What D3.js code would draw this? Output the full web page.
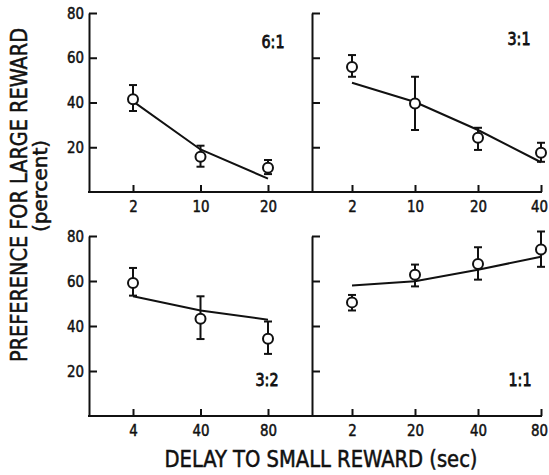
<!DOCTYPE html>
<html>
<head>
<meta charset="utf-8">
<script src="https://cdn.jsdelivr.net/npm/d3@7"></script>
<style>
  body { margin: 0; background: #fff; }
  svg { display: block; }
  text { font-family: "DejaVu Sans Condensed", "Liberation Sans Narrow", sans-serif; fill: #111; stroke: #111; stroke-width: 0.5; }
  .tick line, .baseline, .domain { stroke: #111; stroke-width: 2; }
  .fit { fill: none; stroke: #111; stroke-width: 2; }
  .err { stroke: #111; stroke-width: 2; }
  .pt { fill: #fff; stroke: #111; stroke-width: 2; }
</style>
</head>
<body>
<div id="chart"></div>
<script>
// delays (sec) per panel
const delays61 = ['2', '10', '20'];
const delays31 = ['2', '10', '20', '40'];
const delays32 = ['4', '40', '80'];
const delays11 = ['2', '20', '40', '80'];

// preference for large reward (percent)
const mean61 = [41.5, 15.8, 10.8];
const low61 = [36.2, 11.3, 8];
const high61 = [47.8, 20.7, 14.3];
const fit61 = [40.5, 19, 6];

const mean31 = [55.9, 39.6, 24.2, 17.5];
const low31 = [51.5, 27.7, 18.8, 13.5];
const high31 = [61.2, 51.5, 28.7, 22];
const fit31 = [48.8, 40.2, 27.7, 13.3];

const mean32 = [59.1, 43.2, 34.3];
const low32 = [53.5, 34.2, 27.6];
const high32 = [65.8, 53.2, 42];
const fit32 = [53.2, 46.9, 42.8];

const mean11 = [50.5, 62.8, 67.6, 74];
const low11 = [46.9, 57.6, 60.6, 66.3];
const high11 = [53.8, 67.3, 75, 82];
const fit11 = [58, 59.9, 65, 70.8];

const yTicks = [20, 40, 60, 80];
const ratioLabels = ['6:1', '3:1', '3:2', '1:1'];

const W = 549, H = 475;
const svg = d3.select('#chart').append('svg').attr('width', W).attr('height', H);

const leftAxisX = 89, midAxisX = 312, endX = 542;
const rows = [
  { y: d3.scaleLinear().domain([0, 80]).range([192, 13]) },
  { y: d3.scaleLinear().domain([0, 80]).range([416, 236]) }
];

const panels = [
  { row: 0, side: 'left', delays: delays61, mean: mean61, low: low61, high: high61, fit: fit61, label: ratioLabels[0], lx: 273, ly: 48 },
  { row: 0, side: 'right', delays: delays31, mean: mean31, low: low31, high: high31, fit: fit31, label: ratioLabels[1], lx: 519, ly: 45 },
  { row: 1, side: 'left', delays: delays32, mean: mean32, low: low32, high: high32, fit: fit32, label: ratioLabels[2], lx: 267, ly: 386 },
  { row: 1, side: 'right', delays: delays11, mean: mean11, low: low11, high: high11, fit: fit11, label: ratioLabels[3], lx: 520, ly: 386 }
];

// narrow glyphs, like the condensed face of the original
const squeeze = sel => sel.attr('textLength', function () { return this.textContent.length * 8.5; })
  .attr('lengthAdjust', 'spacingAndGlyphs');

panels.forEach(p => {
  const y = rows[p.row].y;
  const x0 = p.side === 'left' ? leftAxisX : midAxisX;
  const x1 = p.side === 'left' ? midAxisX : endX;
  const x = d3.scalePoint().domain(p.delays)
    .range(p.side === 'left' ? [133, 268] : [352, 541]);

  const g = svg.append('g');

  // y axis, ticks pointing inward
  const yAxis = d3.axisLeft(y).tickValues(yTicks).tickSizeInner(-8).tickSizeOuter(0).tickPadding(4)
    .tickFormat(p.side === 'left' ? d3.format('d') : '');
  const ya = g.append('g').attr('transform', `translate(${x0},0)`).call(yAxis);
  ya.selectAll('text').style('font-size', '16px').attr('dx', '-1').call(squeeze);

  // baseline
  g.append('line').attr('class', 'baseline')
    .attr('x1', x0 - 1).attr('x2', x1).attr('y1', y(0)).attr('y2', y(0));

  // x axis, ticks pointing up
  const xAxis = d3.axisBottom(x).tickSizeInner(-7).tickSizeOuter(0).tickPadding(9);
  const xa = g.append('g').attr('transform', `translate(0,${y(0)})`).call(xAxis);
  xa.select('.domain').remove();
  xa.selectAll('text').style('font-size', '16px').call(squeeze);
  // last label sits at the page edge, nudge it in
  if (p.side === 'right') xa.selectAll('text').filter((d, i, n) => i === n.length - 1).attr('dx', '-2');

  // fitted line
  g.append('path').attr('class', 'fit')
    .attr('d', d3.line().x((d, i) => x(p.delays[i])).y(d => y(d))(p.fit));

  // error bars
  const eb = g.selectAll('.eb').data(p.delays).enter().append('g');
  eb.append('line').attr('class', 'err')
    .attr('x1', d => x(d)).attr('x2', d => x(d))
    .attr('y1', (d, i) => y(p.low[i])).attr('y2', (d, i) => y(p.high[i]));
  eb.append('line').attr('class', 'err')
    .attr('x1', d => x(d) - 4).attr('x2', d => x(d) + 4)
    .attr('y1', (d, i) => y(p.low[i])).attr('y2', (d, i) => y(p.low[i]));
  eb.append('line').attr('class', 'err')
    .attr('x1', d => x(d) - 4).attr('x2', d => x(d) + 4)
    .attr('y1', (d, i) => y(p.high[i])).attr('y2', (d, i) => y(p.high[i]));

  g.selectAll('.pt').data(p.delays).enter().append('circle')
    .attr('class', 'pt')
    .attr('cx', d => x(d)).attr('cy', (d, i) => y(p.mean[i]))
    .attr('r', 5);

  g.append('text').attr('x', p.lx).attr('y', p.ly)
    .attr('text-anchor', 'middle').style('font-size', '18px').style('stroke-width', '0.8')
    .attr('textLength', 23).attr('lengthAdjust', 'spacingAndGlyphs')
    .text(p.label);
});

// axis titles
svg.append('text')
  .attr('transform', 'translate(27,195) rotate(-90)')
  .attr('text-anchor', 'middle').style('font-size', '23px')
  .attr('textLength', 334).attr('lengthAdjust', 'spacingAndGlyphs')
  .text('PREFERENCE FOR LARGE REWARD');
svg.append('text')
  .attr('transform', 'translate(47,186) rotate(-90)')
  .attr('text-anchor', 'middle').style('font-size', '20px')
  .attr('textLength', 92).attr('lengthAdjust', 'spacingAndGlyphs')
  .text('(percent)');
svg.append('text')
  .attr('x', 321).attr('y', 467)
  .attr('text-anchor', 'middle').style('font-size', '23px')
  .attr('textLength', 313).attr('lengthAdjust', 'spacingAndGlyphs')
  .text('DELAY TO SMALL REWARD (sec)');
</script>
</body>
</html>
